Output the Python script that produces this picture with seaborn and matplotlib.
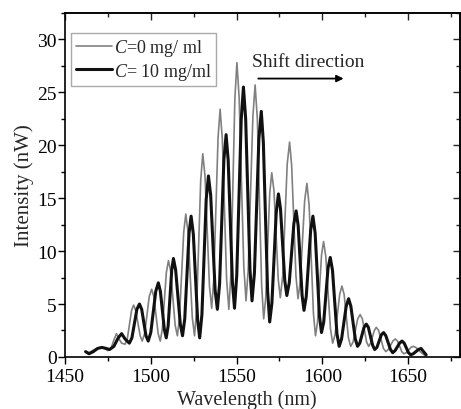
import numpy as np
import pandas as pd
import seaborn as sns
from matplotlib import pyplot as plt
from matplotlib.ticker import MultipleLocator

# spectrum without analyte (C = 0 mg/ml)
wl_c0 = [1462, 1464, 1466, 1468.5, 1471, 1473, 1475, 1477, 1478.5, 1480, 1481.5, 1483, 1485,
         1486.3, 1488.8, 1490, 1491.2, 1493.8, 1495,
         1496.4, 1499.1, 1500.5, 1501.8, 1504.3, 1505.5,
         1506.7, 1509.1, 1510.3, 1511.6, 1514.2, 1515.5,
         1516.7, 1519.2, 1520.4, 1521.7, 1524.2, 1525.5,
         1526.7, 1529.1, 1530.3, 1531.6, 1534.2, 1535.5,
         1536.7, 1539.2, 1540.4, 1541.7, 1544.2, 1545.5,
         1546.7, 1549.0, 1550.2, 1551.5, 1554.2, 1555.5,
         1556.8, 1559.5, 1560.8, 1562.1, 1564.6, 1565.8,
         1567.0, 1569.3, 1570.5, 1571.8, 1574.3, 1575.5,
         1576.9, 1579.5, 1580.9, 1582.1, 1584.6, 1585.8,
         1587.1, 1589.7, 1591.0, 1592.3, 1594.8, 1596.0,
         1597.2, 1599.5, 1600.7, 1602.0, 1604.7, 1606.0,
         1607.4, 1610.1, 1611.4, 1612.7, 1615.2, 1616.5,
         1617.9, 1620.6, 1622.0, 1623.3, 1625.8, 1627.0,
         1628.1, 1630.3, 1631.4, 1632.8, 1635.6, 1637.0,
         1638.4, 1641.1, 1642.5, 1643.8, 1646.3, 1647.5,
         1648.9, 1651.6, 1653.0, 1654.5, 1657.0, 1660.0]
int_c0 = [0.5, 0.4, 0.6, 0.8, 0.9, 0.8, 0.6, 0.9, 1.6, 2.2, 1.7, 1.3, 1.2,
          1.7, 4.4, 4.9, 4.4, 2.0, 1.5,
          2.2, 5.7, 6.4, 5.7, 2.2, 1.5,
          2.6, 8.0, 9.1, 8.1, 3.0, 2.0,
          3.7, 11.8, 13.5, 11.8, 3.7, 2.0,
          4.5, 16.7, 19.2, 17.1, 6.7, 4.6,
          7.3, 20.7, 23.4, 20.6, 7.3, 4.5,
          7.9, 24.4, 27.8, 24.5, 8.6, 5.3,
          8.3, 22.7, 25.7, 22.5, 6.8, 3.6,
          5.6, 15.4, 17.4, 15.7, 7.3, 5.6,
          7.7, 18.2, 20.3, 18.1, 7.7, 5.5,
          7.1, 14.8, 16.4, 14.3, 4.1, 2.0,
          3.3, 9.6, 10.9, 9.5, 2.7, 1.3,
          2.1, 5.9, 6.7, 5.9, 1.8, 1.0,
          1.4, 3.6, 4.0, 3.6, 1.4, 1.0,
          1.3, 2.5, 2.8, 2.5, 0.8, 0.5,
          0.7, 1.5, 1.7, 1.5, 0.5, 0.3,
          0.4, 0.9, 1.0, 0.9, 0.5, 0.1]

# spectrum with C = 10 mg/ml
wl_c10 = [1462, 1464, 1466.5, 1469, 1471.5, 1474, 1476, 1478.5, 1481, 1483, 1485, 1487.5,
          1489.0, 1491.9, 1493.4, 1494.7, 1497.2, 1498.5,
          1500.0, 1502.9, 1504.4, 1505.6, 1507.9, 1509.0,
          1510.1, 1512.2, 1513.2, 1514.5, 1517.2, 1518.5,
          1519.8, 1522.3, 1523.5, 1524.8, 1527.3, 1528.5,
          1529.8, 1532.3, 1533.6, 1534.9, 1537.5, 1538.8,
          1540.1, 1542.6, 1543.9, 1545.1, 1547.6, 1548.8,
          1550.1, 1552.7, 1554.0, 1555.3, 1557.8, 1559.0,
          1560.4, 1563.0, 1564.4, 1565.6, 1568.1, 1569.3,
          1570.6, 1573.1, 1574.4, 1575.6, 1578.1, 1579.3,
          1580.7, 1583.4, 1584.7, 1585.9, 1588.2, 1589.3,
          1590.6, 1593.2, 1594.5, 1595.8, 1598.3, 1599.5,
          1600.8, 1603.3, 1604.6, 1605.9, 1608.5, 1609.8,
          1611.2, 1613.9, 1615.3, 1616.6, 1619.2, 1620.5,
          1621.8, 1624.3, 1625.6, 1626.8, 1629.3, 1630.5,
          1631.8, 1634.4, 1635.7, 1637.0, 1639.7, 1641.0,
          1642.4, 1645.0, 1646.4, 1647.7, 1650.2, 1651.5,
          1653.0, 1656.0, 1657.5, 1659.0, 1660.5]
int_c10 = [0.5, 0.3, 0.5, 0.8, 0.9, 0.8, 0.7, 1.0, 1.8, 2.2, 1.7, 1.3,
           1.8, 4.5, 5.0, 4.5, 2.0, 1.5,
           2.3, 6.2, 7.0, 6.2, 2.6, 1.8,
           2.9, 8.2, 9.3, 8.2, 3.1, 2.0,
           3.6, 11.7, 13.3, 11.6, 3.5, 1.8,
           4.0, 14.9, 17.1, 15.3, 6.3, 4.5,
           6.9, 18.6, 21.0, 18.6, 7.0, 4.6,
           7.7, 22.4, 25.5, 22.5, 8.3, 5.3,
           7.9, 20.6, 23.2, 20.3, 6.2, 3.3,
           5.1, 13.6, 15.4, 14.0, 7.2, 5.8,
           7.0, 12.6, 13.8, 12.4, 5.8, 4.4,
           5.7, 12.0, 13.3, 11.7, 3.9, 2.3,
           3.3, 8.4, 9.4, 8.2, 2.2, 1.0,
           1.7, 4.8, 5.5, 4.8, 1.7, 1.0,
           1.3, 2.8, 3.1, 2.8, 1.1, 0.7,
           0.9, 2.1, 2.3, 2.0, 0.7, 0.4,
           0.6, 1.3, 1.5, 1.3, 0.4, 0.2,
           0.3, 0.7, 0.8, 0.5, 0.2]

labels = ['$C$=0 mg/ ml', '$C$= 10 mg/ml']

sns.set_theme(style='ticks')
plt.rcParams['font.family'] = ['Liberation Serif', 'DejaVu Serif']
plt.rcParams['mathtext.fontset'] = 'custom'
plt.rcParams['mathtext.it'] = 'Liberation Serif:italic'
plt.rcParams['mathtext.rm'] = 'Liberation Serif'

fig = plt.figure(figsize=(4.61, 4.10), dpi=100)
ax = fig.add_axes([0.141, 0.127, 0.856, 0.839])

df0 = pd.DataFrame({'wl': wl_c0, 'I': int_c0})
df10 = pd.DataFrame({'wl': wl_c10, 'I': int_c10})
sns.lineplot(data=df0, x='wl', y='I', ax=ax, color='#808080', linewidth=1.2,
             label=labels[0], sort=False)
sns.lineplot(data=df10, x='wl', y='I', ax=ax, color='#111111', linewidth=2.2,
             label=labels[1], sort=False)

ax.set_xlim(1450, 1680)
ax.set_ylim(0, 32.5)
ax.xaxis.set_major_locator(MultipleLocator(50))
ax.xaxis.set_minor_locator(MultipleLocator(25))
ax.yaxis.set_major_locator(MultipleLocator(5))
ax.yaxis.set_minor_locator(MultipleLocator(2.5))
ax.set_xticks([1450, 1500, 1550, 1600, 1650])

for s in ax.spines.values():
    s.set_linewidth(1.2)
    s.set_color('black')
ax.tick_params(which='both', direction='out', width=1.0, colors='black',
               labelsize=14, top=False, right=False)
ax.tick_params(which='major', length=5)
ax.tick_params(axis='y', which='major', pad=1)
ax.tick_params(axis='x', which='major', pad=3)
ax.tick_params(which='minor', length=3)
ax.xaxis.set_ticks_position('bottom')

# mirrored inward ticks on top and right
sec_x = ax.secondary_xaxis('top')
sec_x.set_xticks([1450, 1500, 1550, 1600, 1650], labels=[])
sec_x.xaxis.set_minor_locator(MultipleLocator(25))
sec_x.tick_params(which='both', direction='in', width=1.0)
sec_x.tick_params(which='major', length=5)
sec_x.tick_params(which='minor', length=3)
sec_y = ax.secondary_yaxis('right')
sec_y.set_yticks([0, 5, 10, 15, 20, 25, 30], labels=[])
sec_y.yaxis.set_minor_locator(MultipleLocator(2.5))
sec_y.tick_params(which='both', direction='in', width=1.0)
sec_y.tick_params(which='major', length=5)
sec_y.tick_params(which='minor', length=3)

ax.set_xlabel('Wavelength (nm)', fontsize=14.5)
ax.xaxis.set_label_coords(0.46, -0.093)
ax.set_ylabel('Intensity (nW)', fontsize=15, labelpad=2)

ax.legend(loc='upper left', bbox_to_anchor=(0.016, 0.943), fontsize=13,
          frameon=True, fancybox=False, edgecolor='#aaaaaa', framealpha=1,
          handlelength=2.0, handletextpad=0.1, borderpad=0.25, labelspacing=0.15,
          borderaxespad=0)

ax.text(1559, 27.9, 'Shift direction', fontsize=14, va='center', ha='left')
ax.annotate('', xy=(1614, 26.3), xytext=(1561, 26.3),
            arrowprops=dict(arrowstyle='-|>', color='black', lw=1.3,
                            mutation_scale=10))

fig.savefig('out.png', dpi=100)
